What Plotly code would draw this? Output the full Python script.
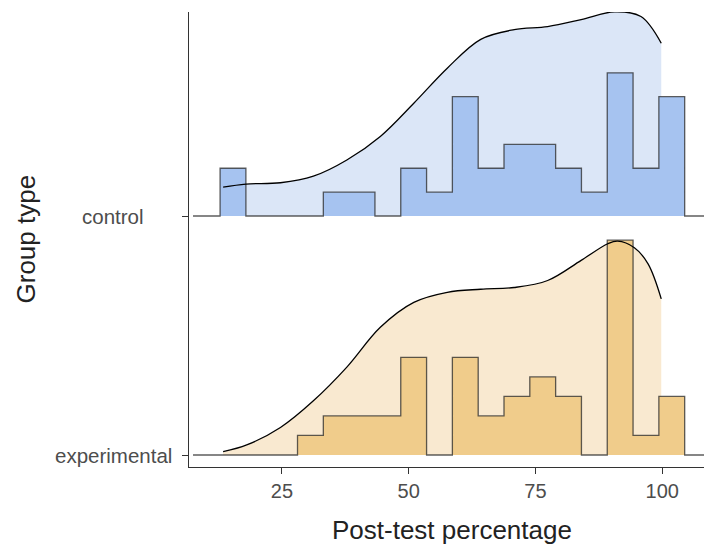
import plotly.graph_objects as go

# ---------------- data ----------------
groups = ["experimental", "control"]
group_base = [0, 1]

bin_start = 12.8
bin_width = 5.09
control_counts = [2, 0, 0, 0, 1, 1, 0, 2, 1, 5, 2, 3, 3, 2, 1, 6, 2, 5]
experimental_counts = [0, 0, 0, 1, 2, 2, 2, 5, 0, 5, 2, 3, 4, 3, 0, 11, 1, 3]

control_dens_x = [13.4, 17.9, 24.7, 31.2, 37.8, 44.4, 51.0, 57.6, 64.2, 70.8, 77.4, 84.0, 90.6, 95.8, 99.8]
control_dens_y = [0.0066, 0.0073, 0.0076, 0.0091, 0.0128, 0.0182, 0.0258, 0.0338, 0.0404,
                  0.0426, 0.0433, 0.0449, 0.0467, 0.0456, 0.0395]

experimental_dens_x = [13.4, 18.05, 24.7, 31.2, 37.8, 44.4, 51.0, 57.6, 64.2, 70.8, 77.4, 84.0,
                       89.25, 91.2, 94.5, 97.2, 99.8]
experimental_dens_y = [0.00075, 0.0023, 0.0063, 0.0124, 0.0201, 0.0292, 0.0349, 0.0372, 0.0379,
                       0.0383, 0.0399, 0.0445, 0.0483, 0.0489, 0.0474, 0.0437, 0.0357]

x_ticks = [25, 50, 75, 100]

# ---------------- style ----------------
scale = 18.3          # ridge height per density unit
outline_left = 7.46
outline_right = 112
styles = {
    "control": dict(dens_fill="#dbe6f7", hist_fill="#a6c3f0"),
    "experimental": dict(dens_fill="#f9e9d0", hist_fill="#f0cc8b"),
}
FONT = "Liberation Sans, Arial, sans-serif"

fig = go.Figure()

data = {
    "control": (control_counts, control_dens_x, control_dens_y),
    "experimental": (experimental_counts, experimental_dens_x, experimental_dens_y),
}

for g, base in zip(groups, group_base):
    counts, dx, dy = data[g]
    n = sum(counts)
    st = styles[g]
    # density fill
    fig.add_trace(go.Scatter(x=[dx[0], dx[-1]], y=[base, base], mode="lines",
                             line=dict(width=0), showlegend=False, hoverinfo="skip"))
    fig.add_trace(go.Scatter(x=dx, y=[base + v * scale for v in dy], mode="lines",
                             line=dict(width=0, shape="spline"), fill="tonexty",
                             fillcolor=st["dens_fill"], showlegend=False, hoverinfo="skip"))
    # histogram (step outline)
    hx, hy = [outline_left, bin_start], [base, base]
    for i, c in enumerate(counts):
        h = base + c / (n * bin_width) * scale
        x0 = bin_start + i * bin_width
        x1 = x0 + bin_width
        hx += [x0, x1]
        hy += [h, h]
    hx += [bin_start + len(counts) * bin_width, outline_right]
    hy += [base, base]
    fig.add_trace(go.Scatter(x=hx, y=hy, mode="lines", fill="toself", fillcolor=st["hist_fill"],
                             line=dict(color="rgba(40,40,40,0.75)", width=1.3),
                             showlegend=False, hoverinfo="skip"))
    # density line
    fig.add_trace(go.Scatter(x=dx, y=[base + v * scale for v in dy], mode="lines",
                             line=dict(color="black", width=1.3, shape="spline"),
                             showlegend=False, hoverinfo="skip", cliponaxis=False))

L, R, T, B = 189, 0, 12, 81
W, H = 704, 548
pw = W - L - R
ph = H - T - B

fig.update_layout(
    width=W, height=H,
    margin=dict(l=L, r=R, t=T, b=B),
    plot_bgcolor="white", paper_bgcolor="white",
    font=dict(family=FONT, color="#4d4d4d"),
    xaxis=dict(range=[6.67, 108.23], showgrid=False, zeroline=False, showline=True,
               linecolor="#333333", linewidth=1.1, ticks="outside", ticklen=6,
               tickcolor="#333333", tickwidth=1.1, tickvals=x_ticks,
               tickfont=dict(size=20, color="#4d4d4d", family=FONT)),
    yaxis=dict(range=[-0.0502, 1.8536], showgrid=False, zeroline=False, showline=True,
               linecolor="#333333", linewidth=1.1, ticks="outside", ticklen=6,
               tickcolor="#333333", tickwidth=1.1, tickvals=group_base,
               showticklabels=False),
)

# y category labels (centred, as in the reference)
for g, base in zip(groups, group_base):
    fig.add_annotation(text=g, x=(113 - L) / pw, xref="paper", y=base, yref="y",
                       xanchor="center", yanchor="middle", showarrow=False,
                       font=dict(size=20.5, color="#4d4d4d", family=FONT))

fig.add_annotation(text="Group type", x=(25 - L) / pw, xref="paper", y=0.5, yref="paper",
                   textangle=-90, xanchor="center", yanchor="middle", showarrow=False,
                   font=dict(size=26, color="#222222", family=FONT))
fig.add_annotation(text="Post-test percentage", x=(452.3 - L) / pw, xref="paper",
                   y=-(530 - (H - B)) / ph, yref="paper", xanchor="center", yanchor="middle",
                   showarrow=False, font=dict(size=26, color="#222222", family=FONT))

fig.write_html("out.html", config={"displayModeBar": False},
               post_script="document.body.style.margin='0';document.body.style.overflow='hidden';")
